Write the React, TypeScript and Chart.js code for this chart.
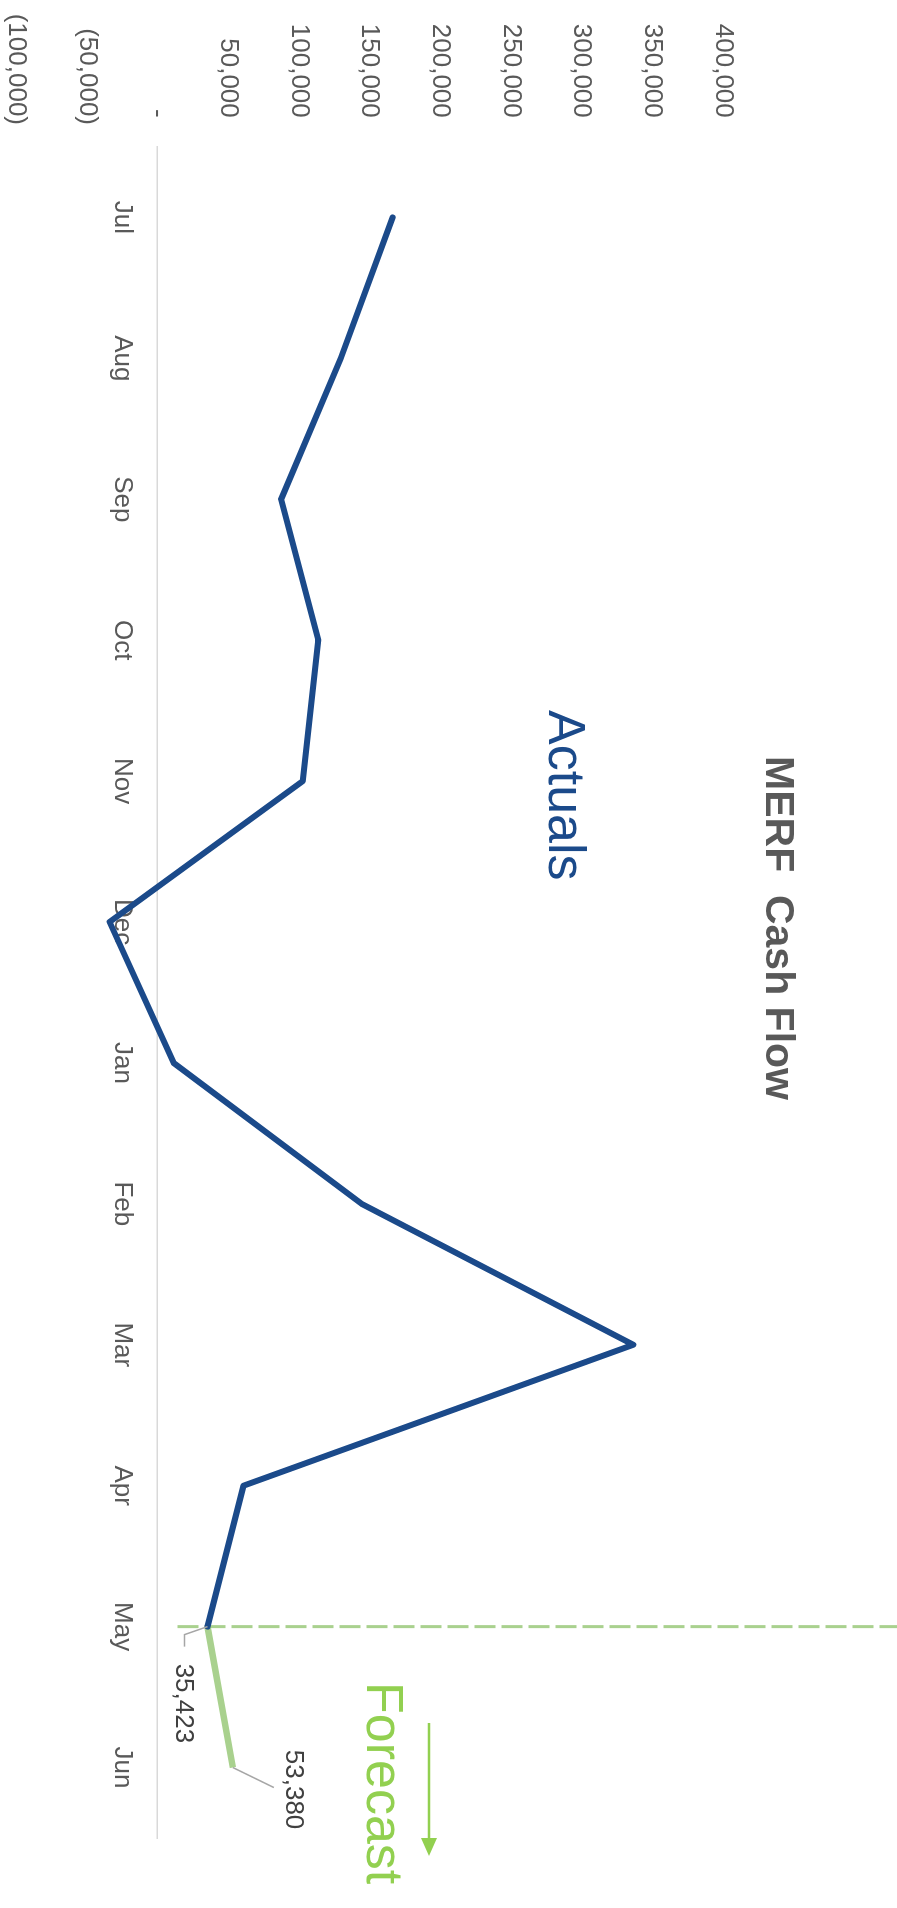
import React, { useEffect, useRef } from "react";
import { Chart, registerables } from "chart.js";

Chart.register(...registerables);

// ---- data ----
const months = ["Jul", "Aug", "Sep", "Oct", "Nov", "Dec", "Jan", "Feb", "Mar", "Apr", "May", "Jun"];
const actuals: (number | null)[] = [166400, 129700, 87500, 113800, 102800, -33800, 11500, 144500, 336600, 60900, 35423, null];
const forecast: (number | null)[] = [null, null, null, null, null, null, null, null, null, null, 35423, 53380];
const labelledPoints = [
  { index: 10, value: 35423, text: "35,423" },
  { index: 11, value: 53380, text: "53,380" },
];
const yMin = -100000;
const yMax = 400000;
const yStep = 50000;
const titleText = "MERF  Cash Flow";
const actualsText = "Actuals";
const forecastText = "Forecast";

const W = 1908;
const H = 897;
const FONT = "'Liberation Sans', Arial, Helvetica, sans-serif";
const BLUE = "#1B4A8A";
const GREEN = "#92D050";
const LIGHT_GREEN = "#A9D18E";
const GRAY = "#595959";

const fmt = (v: number) => Math.round(v).toLocaleString("en-US");

const overlay = {
  id: "overlay",
  beforeDatasetsDraw(chart: any) {
    const ctx = chart.ctx;
    const xs = chart.scales.x;
    const ys = chart.scales.y;
    const px = xs.getPixelForValue(10);
    const yEnd = ys.getPixelForValue(0) - 20;
    ctx.save();
    ctx.strokeStyle = LIGHT_GREEN;
    ctx.lineWidth = 3;
    ctx.setLineDash([21, 6]);
    ctx.beginPath();
    ctx.moveTo(px, yEnd);
    ctx.lineTo(px, 0);
    ctx.stroke();
    ctx.restore();
  },
  afterDatasetsDraw(chart: any) {
    const ctx = chart.ctx;
    const xs = chart.scales.x;
    const ys = chart.scales.y;
    ctx.save();
    // title
    ctx.fillStyle = GRAY;
    ctx.font = `bold 41px ${FONT}`;
    ctx.textAlign = "center";
    ctx.textBaseline = "alphabetic";
    ctx.fillText(titleText, 928, 131);
    // Actuals
    ctx.fillStyle = BLUE;
    ctx.font = `52px ${FONT}`;
    ctx.textAlign = "left";
    ctx.fillText(actualsText, 710, 348);
    // Forecast
    ctx.fillStyle = GREEN;
    ctx.fillText(forecastText, 1682, 530);
    // arrow
    ctx.strokeStyle = GREEN;
    ctx.lineWidth = 2.5;
    ctx.beginPath();
    ctx.moveTo(1723, 468);
    ctx.lineTo(1840, 468);
    ctx.stroke();
    ctx.beginPath();
    ctx.moveTo(1856, 468);
    ctx.lineTo(1838, 460);
    ctx.lineTo(1838, 476);
    ctx.closePath();
    ctx.fill();

    // data labels with leader lines
    ctx.strokeStyle = "#A6A6A6";
    ctx.lineWidth = 1.5;
    ctx.fillStyle = "#404040";
    ctx.font = `26px ${FONT}`;
    ctx.textBaseline = "middle";
    const a = labelledPoints[0];
    let px = xs.getPixelForValue(a.index);
    let py = ys.getPixelForValue(a.value);
    ctx.beginPath();
    ctx.moveTo(px, py);
    ctx.lineTo(px + 8, py + 23);
    ctx.lineTo(px + 20, py + 23);
    ctx.stroke();
    ctx.textAlign = "left";
    ctx.fillText(a.text, px + 37, py + 24);

    const b = labelledPoints[1];
    px = xs.getPixelForValue(b.index);
    py = ys.getPixelForValue(b.value);
    ctx.beginPath();
    ctx.moveTo(px, py);
    ctx.lineTo(px + 20, py - 41);
    ctx.stroke();
    ctx.textAlign = "center";
    ctx.fillText(b.text, px + 22, py - 60);
    ctx.restore();
  },
};

export default function App() {
  const ref = useRef<HTMLCanvasElement | null>(null);
  useEffect(() => {
    if (!ref.current) return;
    const chart = new Chart(ref.current, {
      type: "line",
      data: {
        labels: months,
        datasets: [
          {
            label: "Actuals",
            data: actuals,
            borderColor: BLUE,
            borderWidth: 6,
            pointRadius: 0,
            borderJoinStyle: "round",
            borderCapStyle: "round",
            tension: 0,
            spanGaps: false,
          },
          {
            label: "Forecast",
            data: forecast,
            borderColor: LIGHT_GREEN,
            borderWidth: 6.5,
            pointRadius: 0,
            borderJoinStyle: "round",
            borderCapStyle: "butt",
            tension: 0,
          },
        ],
      },
      options: {
        responsive: false,
        animation: false,
        devicePixelRatio: 1,
        layout: { padding: { top: 174, bottom: 16, right: 70, left: 0 } },
        plugins: {
          legend: { display: false },
          title: { display: false },
          tooltip: { enabled: false },
        },
        scales: {
          x: {
            type: "category",
            position: { y: 0 } as any,
            offset: true,
            grid: { display: false, drawTicks: false },
            border: { display: true, color: "#D9D9D9", width: 1.5 },
            ticks: {
              color: GRAY,
              font: { family: FONT, size: 26 },
              padding: 20,
              maxRotation: 0,
              autoSkip: false,
            },
          },
          y: {
            min: yMin,
            max: yMax,
            grid: { display: false, drawTicks: false },
            border: { display: false },
            ticks: {
              stepSize: yStep,
              color: GRAY,
              font: { family: FONT, size: 26 },
              padding: 22,
              callback: (v: any) => {
                const n = Number(v);
                if (n === 0) return "- ";
                if (n < 0) return `(${fmt(-n)})`;
                return `${fmt(n)} `;
              },
            },
            afterFit: (s: any) => {
              s.width = 147;
              s.paddingTop = 0;
              s.paddingBottom = 0;
            },
          },
        },
      },
      plugins: [overlay],
    });
    return () => chart.destroy();
  }, []);

  return (
    <div style={{ position: "absolute", left: 0, top: 0, width: H, height: W, overflow: "hidden", background: "#fff" }}>
      <div
        style={{
          position: "absolute",
          left: 0,
          top: 0,
          width: W,
          height: H,
          transformOrigin: "0 0",
          transform: `translate(${H}px, 0px) rotate(90deg)`,
        }}
      >
        <canvas ref={ref} width={W} height={H} style={{ display: "block", width: W, height: H }} />
      </div>
    </div>
  );
}
